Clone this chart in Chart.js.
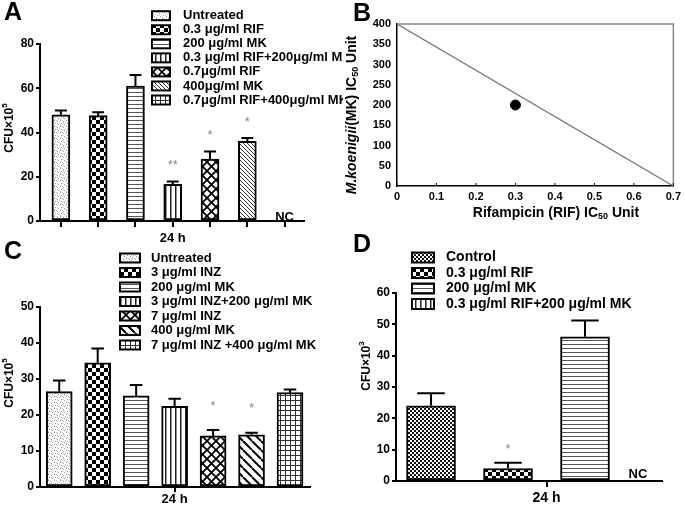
<!DOCTYPE html>
<html>
<head>
<meta charset="utf-8">
<script src="https://cdn.jsdelivr.net/npm/chart.js@4.4.1/dist/chart.umd.min.js"></script>
<style>
html, body { margin: 0; padding: 0; background: #fff; }
#wrap { position: relative; width: 685px; height: 506px; overflow: hidden; }
canvas { position: absolute; left: 0; top: 0; }
</style>
</head>
<body>
<div id="wrap">
<canvas id="cB" width="685" height="506"></canvas>
<canvas id="cD" width="685" height="506"></canvas>
<canvas id="cC" width="343" height="506"></canvas>
<canvas id="cA" width="343" height="506"></canvas>
</div>
<script>
// ---- data ----
const timeLabel = "24 h"

const labelsA = ["Untreated", "0.3 μg/ml RIF", "200 μg/ml MK", "0.3 μg/ml RIF+200μg/ml MK", "0.7μg/ml RIF", "400μg/ml MK", "0.7μg/ml RIF+400μg/ml MK"]
const valuesA = [48, 47.6, 61, 16.6, 28, 36, null]
const errorsA = [2, 1.5, 5, 1.2, 3.4, 1.5, null]
const starsA = ["", "", "", "**", "*", "*", ""]
const yTicksA = [0, 20, 40, 60, 80]

const xLineB = [0, 0.7]
const yLineB = [400, 0]
const pointB = [0.3, 200]
const xTicksB = [0, 0.1, 0.2, 0.3, 0.4, 0.5, 0.6, 0.7]
const yTicksB = [0, 50, 100, 150, 200, 250, 300, 350, 400]

const labelsC = ["Untreated", "3 μg/ml INZ", "200 μg/ml MK", "3 μg/ml INZ+200 μg/ml MK", "7 μg/ml INZ", "400 μg/ml MK", "7 μg/ml INZ +400 μg/ml MK"]
const valuesC = [26.5, 34.5, 25.3, 22.4, 14.2, 14.5, 26.2]
const errorsC = [3.1, 4, 3, 2.1, 1.6, 0.6, 0.9]
const starsC = ["", "", "", "", "*", "*", ""]
const yTicksC = [0, 10, 20, 30, 40, 50]

const labelsD = ["Control", "0.3 μg/ml RIF", "200 μg/ml MK", "0.3 μg/ml RIF+200 μg/ml MK"]
const valuesD = [24, 4, 46, null]
const errorsD = [4, 1.8, 5.2, null]
const starsD = ["", "*", "", ""]
const yTicksD = [0, 10, 20, 30, 40, 50, 60]

// ---- styles ----
const patsA = ["speckle", "checker", "hlines", "vlines", "cross", "diagFine", "grid"]
const patsC = ["speckle", "checker", "hlines", "vlines", "cross", "diagWide", "grid"]
const patsD = ["fineChecker", "checker", "hlines", "vlines"]

const FONT = "'Liberation Sans', Arial, sans-serif"
Chart.defaults.font.family = FONT
Chart.defaults.color = "#000"
Chart.defaults.animation = false

function tile(w, h, draw) {
    const c = document.createElement("canvas")
    c.width = w
    c.height = h
    const g = c.getContext("2d")
    g.fillStyle = "#fff"
    g.fillRect(0, 0, w, h)
    draw(g, w, h)
    return c
}

function diag(g, s, dir) {
    g.beginPath()
    for (let k = -1; k <= 1; k++) {
        if (dir > 0) { g.moveTo(k * s, 0); g.lineTo(k * s + s, s) }
        else { g.moveTo(k * s, s); g.lineTo(k * s + s, 0) }
    }
    g.stroke()
}

const tiles = {
    speckle: tile(6, 6, g => {
        g.fillStyle = "#999"
        g.fillRect(0, 0, 1, 1); g.fillRect(3, 1, 1, 1); g.fillRect(1, 3, 1, 1); g.fillRect(4, 4, 1, 1)
        g.fillStyle = "#c4c4c4"
        g.fillRect(2, 0, 1, 1); g.fillRect(5, 2, 1, 1); g.fillRect(0, 5, 1, 1); g.fillRect(3, 3, 1, 1)
    }),
    checker: tile(8, 8, g => { g.fillStyle = "#000"; g.fillRect(0, 0, 4, 4); g.fillRect(4, 4, 4, 4) }),
    fineChecker: tile(4, 4, g => { g.fillStyle = "#111"; g.fillRect(0, 0, 2, 2); g.fillRect(2, 2, 2, 2) }),
    hlines: tile(4, 4, g => { g.fillStyle = "#555"; g.fillRect(0, 0, 4, 1) }),
    vlines: tile(5, 5, g => { g.fillStyle = "#222"; g.fillRect(0, 0, 1.5, 5) }),
    cross: tile(9, 9, g => { g.strokeStyle = "#000"; g.lineWidth = 1.8; diag(g, 9, 1); diag(g, 9, -1) }),
    diagFine: tile(4, 4, g => { g.strokeStyle = "#333"; g.lineWidth = 1; diag(g, 4, 1) }),
    diagWide: tile(9, 9, g => { g.strokeStyle = "#000"; g.lineWidth = 2; diag(g, 9, 1) }),
    grid: tile(5, 5, g => { g.fillStyle = "#333"; g.fillRect(0, 0, 5, 1); g.fillRect(0, 0, 1, 5) })
}

function pat(ctx, name) {
    return ctx.createPattern(tiles[name], "repeat")
}

function richText(ctx, parts, x, y, rotate) {
    ctx.save()
    ctx.translate(x, y)
    if (rotate) ctx.rotate(-Math.PI / 2)
    let total = 0
    parts.forEach(p => { ctx.font = p.f; total += ctx.measureText(p.t).width })
    let cx = -total / 2
    ctx.textAlign = "left"
    ctx.textBaseline = "middle"
    ctx.fillStyle = "#000"
    parts.forEach(p => {
        ctx.font = p.f
        ctx.fillText(p.t, cx, p.dy || 0)
        cx += ctx.measureText(p.t).width
    })
    ctx.restore()
}

function letter(ctx, t, x, y) {
    ctx.save()
    ctx.font = "bold 25px " + FONT
    ctx.fillStyle = "#000"
    ctx.textBaseline = "alphabetic"
    ctx.fillText(t, x, y)
    ctx.restore()
}

// error bars, stars, NC, legend, titles for bar panels
function barPanel(cfg) {
    return {
        id: "panel" + cfg.name,
        afterDatasetsDraw(chart) {
            const ctx = chart.ctx
            const ys = chart.scales.y
            const xs = chart.scales.x
            ctx.save()
            cfg.values.forEach((v, i) => {
                if (v === null) {
                    ctx.font = "bold 13px " + FONT
                    ctx.fillStyle = "#000"
                    ctx.textAlign = "center"
                    ctx.textBaseline = "alphabetic"
                    ctx.fillText("NC", xs.getPixelForValue(i) + cfg.ncShift, ys.getPixelForValue(0) - cfg.ncLift)
                    return
                }
                const bar = chart.getDatasetMeta(i).data[0]
                const top = ys.getPixelForValue(v + cfg.errors[i])
                const half = bar.width * cfg.cap
                ctx.strokeStyle = "#000"
                ctx.lineWidth = 2
                ctx.beginPath()
                ctx.moveTo(bar.x, bar.y)
                ctx.lineTo(bar.x, top)
                ctx.moveTo(bar.x - half, top)
                ctx.lineTo(bar.x + half, top)
                ctx.stroke()
                if (cfg.stars[i]) {
                    ctx.font = "13px " + FONT
                    ctx.fillStyle = "#888"
                    ctx.textAlign = "center"
                    ctx.textBaseline = "middle"
                    ctx.fillText(cfg.stars[i], bar.x, top - cfg.starGap)
                }
            })
            ctx.restore()
        },
        afterDraw(chart) {
            const ctx = chart.ctx
            const L = cfg.legend
            ctx.save()
            cfg.labels.forEach((lab, i) => {
                const cy = L.y0 + i * L.dy
                ctx.fillStyle = pat(ctx, cfg.pats[i])
                ctx.fillRect(L.x, cy - L.sh / 2, L.sw, L.sh)
                ctx.strokeStyle = "#000"
                ctx.lineWidth = 2
                ctx.strokeRect(L.x, cy - L.sh / 2, L.sw, L.sh)
                ctx.fillStyle = "#000"
                ctx.font = "bold " + L.size + "px " + FONT
                ctx.textAlign = "left"
                ctx.textBaseline = "middle"
                ctx.fillText(lab, L.tx, cy)
            })
            ctx.restore()
            richText(ctx, [
                { t: "CFU×10", f: "bold 12px " + FONT },
                { t: cfg.exp, f: "bold 8px " + FONT, dy: -5 }
            ], cfg.ytitle[0], cfg.ytitle[1], true)
            letter(ctx, cfg.letter[0], cfg.letter[1], cfg.letter[2])
        }
    }
}

function barChart(id, cfg) {
    const ctx = document.getElementById(id).getContext("2d")
    const datasets = cfg.labels.map((lab, i) => ({
        label: lab,
        data: cfg.values[i] === null ? [] : [{ x: i, y: cfg.values[i] }],
        backgroundColor: pat(ctx, cfg.pats[i]),
        borderColor: "#000",
        borderWidth: 2,
        borderSkipped: false,
        grouped: false,
        barThickness: cfg.barWidth
    }))
    return new Chart(ctx, {
        type: "bar",
        data: { datasets: datasets },
        options: {
            responsive: false,
            layout: { padding: cfg.padding },
            plugins: { legend: { display: false }, tooltip: { enabled: false } },
            scales: {
                x: {
                    type: "linear",
                    min: cfg.xRange[0],
                    max: cfg.xRange[1],
                    offset: false,
                    afterBuildTicks: s => { s.ticks = cfg.xTicks.map(v => ({ value: v })) },
                    afterFit: s => { s.height = cfg.xHeight },
                    ticks: {
                        autoSkip: false,
                        maxRotation: 0,
                        padding: cfg.xPad,
                        font: { size: cfg.xFont, weight: "bold" },
                        callback: v => v === cfg.labelAt ? timeLabel : ""
                    },
                    grid: { drawOnChartArea: false, offset: false, color: "#000", lineWidth: 2, tickLength: cfg.xTick },
                    border: { color: "#000", width: 2 }
                },
                y: {
                    min: cfg.yTicks[0],
                    max: cfg.yTicks[cfg.yTicks.length - 1],
                    afterBuildTicks: s => { s.ticks = cfg.yTicks.map(v => ({ value: v })) },
                    afterFit: s => { s.width = cfg.yWidth },
                    ticks: { padding: 2, font: { size: 12, weight: "bold" } },
                    grid: { drawOnChartArea: false, color: "#000", lineWidth: 2, tickLength: 4 },
                    border: { color: "#000", width: 2 }
                }
            }
        },
        plugins: [barPanel(cfg)]
    })
}

// ---- A ----
barChart("cA", {
    name: "A", labels: labelsA, values: valuesA, errors: errorsA, stars: starsA, pats: patsA,
    yTicks: yTicksA, xTicks: [0, 1, 2, 3, 4, 5, 6], labelAt: 3,
    xRange: [-0.56, 6.52], barWidth: 18, cap: 0.33, starGap: 16, ncShift: 0, ncLift: 0,
    padding: { left: 0, right: 39, top: 44, bottom: 255 }, yWidth: 40, xHeight: 30,
    xPad: 4, xTick: 6, xFont: 13,
    legend: { x: 152, y0: 15.7, dy: 14.05, sw: 18, sh: 9, tx: 183, size: 13 },
    ytitle: [10, 128], exp: "5", letter: ["A", 4, 20]
})

// ---- C ----
barChart("cC", {
    name: "C", labels: labelsC, values: valuesC, errors: errorsC, stars: starsC, pats: patsC,
    yTicks: yTicksC, xTicks: [3], labelAt: 3,
    xRange: [-0.5, 6.52], barWidth: 26, cap: 0.24, starGap: 24, ncShift: 0, ncLift: 0,
    padding: { left: 0, right: 33, top: 307, bottom: 0 }, yWidth: 40, xHeight: 19,
    xPad: 0, xTick: 5, xFont: 13,
    legend: { x: 120, y0: 258, dy: 14.5, sw: 20, sh: 9, tx: 151, size: 13 },
    ytitle: [10, 383], exp: "5", letter: ["C", 4, 259]
})

// ---- D ----
barChart("cD", {
    name: "D", labels: labelsD, values: valuesD, errors: errorsD, stars: starsD, pats: patsD,
    yTicks: yTicksD, xTicks: [1.5], labelAt: 1.5,
    xRange: [-0.455, 3.0], barWidth: 49, cap: 0.28, starGap: 13, ncShift: -24, ncLift: 3,
    padding: { left: 351, right: 23, top: 293, bottom: 0 }, yWidth: 45, xHeight: 25,
    xPad: 3, xTick: 6, xFont: 14,
    legend: { x: 412, y0: 257.5, dy: 15.5, sw: 22, sh: 10, tx: 446, size: 14 },
    ytitle: [367, 366], exp: "3", letter: ["D", 353, 252]
})

// ---- B ----
const boxB = {
    id: "boxB",
    afterDraw(chart) {
        const ctx = chart.ctx
        const a = chart.chartArea
        const xs = chart.scales.x
        ctx.save()
        ctx.strokeStyle = "#888"
        ctx.lineWidth = 1.5
        ctx.beginPath()
        ctx.moveTo(a.left, a.top)
        ctx.lineTo(a.right, a.top)
        ctx.lineTo(a.right, a.bottom)
        ctx.stroke()
        ctx.strokeStyle = "#000"
        ctx.lineWidth = 1
        ctx.beginPath()
        xTicksB.forEach(v => {
            const px = xs.getPixelForValue(v)
            ctx.moveTo(px, a.bottom)
            ctx.lineTo(px, a.bottom - 3)
        })
        ctx.stroke()
        ctx.restore()
        richText(ctx, [
            { t: "Rifampicin (RIF) IC", f: "bold 14px " + FONT },
            { t: "50", f: "bold 9px " + FONT, dy: 4 },
            { t: " Unit", f: "bold 14px " + FONT }
        ], 556, 213, false)
        richText(ctx, [
            { t: "M.koenigii", f: "italic bold 14px " + FONT },
            { t: "(MK) IC", f: "bold 14px " + FONT },
            { t: "50", f: "bold 9px " + FONT, dy: 4 },
            { t: " Unit", f: "bold 14px " + FONT }
        ], 352, 115, true)
        letter(ctx, "B", 353, 21)
    }
}

new Chart(document.getElementById("cB"), {
    type: "scatter",
    data: {
        datasets: [
            {
                data: xLineB.map((x, i) => ({ x: x, y: yLineB[i] })),
                showLine: true,
                borderColor: "#777",
                borderWidth: 1.3,
                pointRadius: 0
            },
            {
                data: [{ x: pointB[0], y: pointB[1] }],
                pointRadius: 5,
                backgroundColor: "#000",
                borderColor: "#000"
            }
        ]
    },
    options: {
        responsive: false,
        layout: { padding: { left: 352, right: 8, top: 24, bottom: 300 } },
        plugins: { legend: { display: false }, tooltip: { enabled: false } },
        scales: {
            x: {
                type: "linear",
                min: xTicksB[0],
                max: xTicksB[xTicksB.length - 1],
                afterBuildTicks: s => { s.ticks = xTicksB.map(v => ({ value: v })) },
                afterFit: s => { s.height = 20 },
                ticks: { autoSkip: false, maxRotation: 0, padding: 4, font: { size: 11, weight: "bold" }, callback: v => String(v) },
                grid: { display: false, drawTicks: false },
                border: { color: "#000", width: 1.5 }
            },
            y: {
                min: yTicksB[0],
                max: yTicksB[yTicksB.length - 1],
                afterBuildTicks: s => { s.ticks = yTicksB.map(v => ({ value: v })) },
                afterFit: s => { s.width = 45 },
                ticks: { padding: 6, font: { size: 11, weight: "bold" } },
                grid: { display: false, drawTicks: false },
                border: { color: "#000", width: 1.5 }
            }
        }
    },
    plugins: [boxB]
})
</script>
</body>
</html>
